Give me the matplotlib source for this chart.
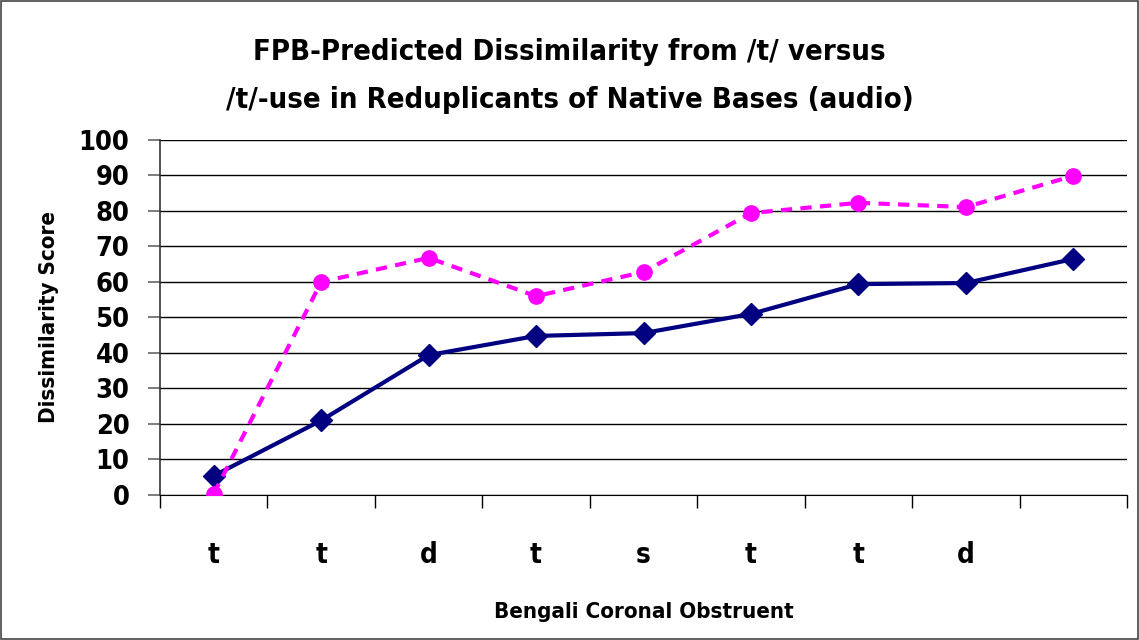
import matplotlib.pyplot as plt
from matplotlib.patches import Rectangle

plt.rcParams['font.family'] = ['DejaVu Sans']
plt.rcParams['font.stretch'] = 'condensed'
plt.rcParams['font.weight'] = 'bold'
plt.rcParams['axes.labelweight'] = 'bold'

categories = ['t', 't', 'd', 't', 's', 't', 't', 'd', '']
fpb_predicted = [5.4, 21.0, 39.4, 44.8, 45.6, 51.0, 59.4, 59.7, 66.5]
t_use = [0.3, 60.0, 66.8, 56.0, 62.8, 79.4, 82.3, 81.1, 89.9]

fig = plt.figure(figsize=(11.39, 6.4), dpi=100)
ax = fig.add_axes([0.1405, 0.2266, 0.849, 0.5547])

x = list(range(len(categories)))
ax.plot(x, fpb_predicted, color='#000080', lw=3, marker='D', ms=11, zorder=3)
ax.plot(x, t_use, color='#FF00FF', lw=3, ls=(0, (2.7, 2)), marker='o', ms=11, zorder=3)

ax.set_xlim(-0.5, len(categories) - 0.5)
ax.set_ylim(0, 100)
ax.set_yticks(range(0, 101, 10))
ax.yaxis.grid(True, color='black', lw=1)
ax.set_axisbelow(True)

ax.set_xticks(x)
ax.set_xticklabels(categories, fontsize=20)
ax.tick_params(axis='x', which='major', length=0, pad=33)
ax.set_xticks([i + 0.5 for i in range(-1, len(categories))], minor=True)
ax.tick_params(axis='x', which='minor', length=9, width=1, color='black', direction='out')
ax.tick_params(axis='y', length=9, width=1.2, color='#666666', labelsize=19.5, pad=13)

for s in ['top', 'right']:
    ax.spines[s].set_visible(False)
ax.spines['left'].set_color('#333333')
ax.spines['left'].set_linewidth(1.2)
ax.spines['bottom'].set_color('black')

ax.set_ylabel('Dissimilarity Score', fontsize=16, labelpad=14)
ax.set_xlabel('Bengali Coronal Obstruent', fontsize=16, labelpad=24)

fig.text(0.5, 0.918, 'FPB-Predicted Dissimilarity from /t/ versus', ha='center', va='center',
         fontsize=21)
fig.text(0.5, 0.843, '/t/-use in Reduplicants of Native Bases (audio)', ha='center', va='center',
         fontsize=21)

fig.patches.append(Rectangle((0.001, 0.001), 0.998, 0.997, transform=fig.transFigure,
                             fill=False, edgecolor='#444444', lw=1.2))

fig.savefig('out.png', dpi=100)
